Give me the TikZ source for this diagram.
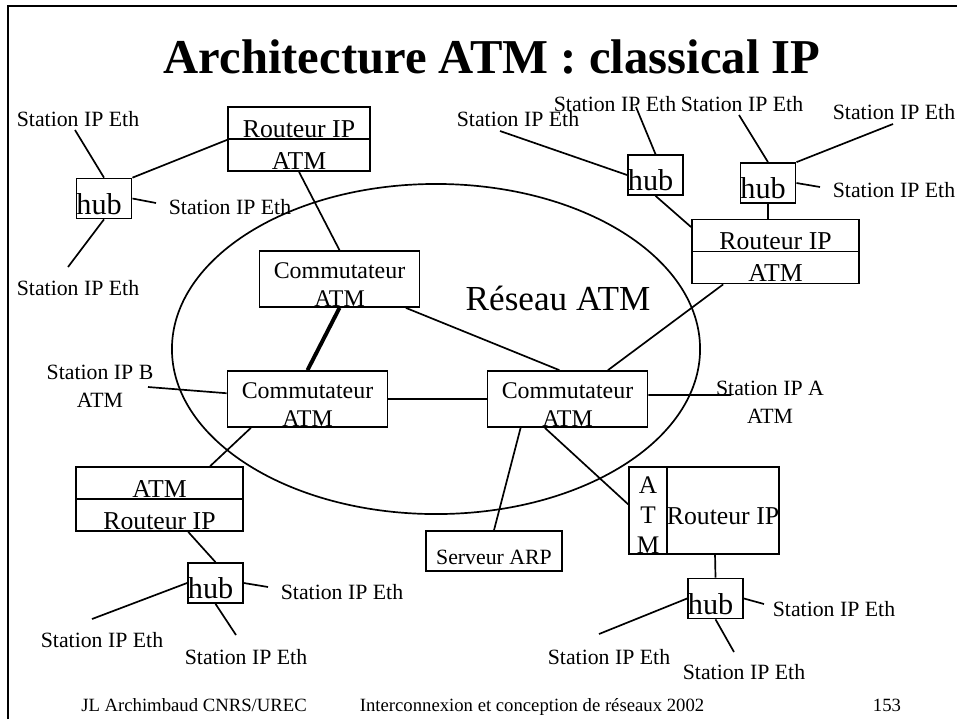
\documentclass[tikz,border=0pt]{standalone}
\usepackage{fontspec}
\setmainfont{Liberation Serif}
\usetikzlibrary{calc}

\begin{document}
\begin{tikzpicture}[x=0.025cm, y=-0.025cm, line width=1.2pt,
    box/.style={rectangle, draw, inner sep=0pt},
    routeur/.style={box, minimum height=0.8cm, text height=19.9pt, text depth=0pt,
      font=\fontsize{18.3}{22}\selectfont},
    commut/.style={box, minimum width=4cm, minimum height=1.4cm, align=center,
      text height=38.4pt, text depth=0pt, font=\fontsize{17}{19.9}\selectfont},
    hub/.style={box, minimum width=1.38cm, minimum height=1cm, text height=22.5pt,
      text depth=0pt, font=\fontsize{21.5}{24}\selectfont},
    station/.style={inner sep=0pt, align=center, font=\fontsize{15.5}{20}\selectfont},
    pied/.style={inner sep=0pt, anchor=base, font=\fontsize{13.3}{16}\selectfont}
  ]
  \useasboundingbox (0,0) rectangle (957,719);
  \draw[line width=1.4pt] (8,719) -- (8,6) -- (957,6);

  \node[font=\fontsize{34.6}{40}\selectfont\bfseries] (titre) at (492,57)
    {Architecture ATM : classical IP};

  % reseau ATM
  \draw (436,349) ellipse [x radius=6.6cm, y radius=4.125cm];
  \node[font=\fontsize{25}{30}\selectfont] (reseau) at (558,298) {Réseau ATM};

  \node[commut] (cmT) at (339.5,279) {Commutateur\\ATM};
  \node[commut] (cmL) at (307.5,399) {Commutateur\\ATM};
  \node[commut] (cmR) at (567.5,399) {Commutateur\\ATM};
  \node[box, minimum width=3.4cm, minimum height=1cm, text height=18.8pt, text depth=0pt,
    font=\fontsize{15.5}{18}\selectfont] (arp) at (494,551) {Serveur ARP};

  % routeurs
  \node[routeur, minimum width=3.55cm] (rtAip) at (299,123) {Routeur IP};
  \node[routeur, minimum width=3.55cm] (rtAatm) at (299,155) {ATM};
  \node[routeur, minimum width=4.175cm] (rtBip) at (775.5,235.5) {Routeur IP};
  \node[routeur, minimum width=4.175cm] (rtBatm) at (775.5,267.5) {ATM};
  \node[routeur, minimum width=4.175cm] (rtCatm) at (159.5,483) {ATM};
  \node[routeur, minimum width=4.175cm] (rtCip) at (159.5,515) {Routeur IP};
  \node[box, minimum width=0.95cm, minimum height=2.175cm, align=center,
    text height=61.5pt, text depth=-2.4pt, font=\fontsize{18}{21.3}\selectfont]
    (atmD) at (648,510.5) {A\\T\\M};
  \node[routeur, minimum width=2.8cm, minimum height=2.175cm] (rtD) at (723,510.5) {Routeur IP};

  % hubs
  \node[hub] (hubA) at (104,198.5) {\makebox[1.38cm][l]{hub}};
  \node[hub] (hubB1) at (655.5,175) {\makebox[1.38cm][l]{hub}};
  \node[hub] (hubB2) at (768,183) {\makebox[1.38cm][l]{hub}};
  \node[hub] (hubC) at (215.5,583) {\makebox[1.38cm][l]{hub}};
  \node[hub] (hubD) at (715.5,598.5) {\makebox[1.38cm][l]{hub}};

  % stations
  \node[station] (sA1) at (78,119) {Station IP Eth};
  \node[station] (sA2) at (230,207) {Station IP Eth};
  \node[station] (sA3) at (78,288) {Station IP Eth};
  \node[station] (sB1) at (518,119) {Station IP Eth};
  \node[station] (sB2) at (615,104) {Station IP Eth};
  \node[station] (sB3) at (742,104) {Station IP Eth};
  \node[station] (sB4) at (894,112) {Station IP Eth};
  \node[station] (sB5) at (894,190) {Station IP Eth};
  \node[station] (stB) at (100,386) {Station IP B\\ATM};
  \node[station] (stA) at (770,402) {Station IP A\\ATM};
  \node[station] (sC1) at (102,640) {Station IP Eth};
  \node[station] (sC2) at (246,657) {Station IP Eth};
  \node[station] (sC3) at (342,592) {Station IP Eth};
  \node[station] (sD1) at (609,657) {Station IP Eth};
  \node[station] (sD2) at (744,672) {Station IP Eth};
  \node[station] (sD3) at (834,609) {Station IP Eth};

  \coordinate (eA1) at (75,130);
  \coordinate (eA2) at (156,203);
  \coordinate (eA3) at (68,267);
  \coordinate (eB1) at (500,131);
  \coordinate (eB2) at (636,107);
  \coordinate (eB3) at (739,115);
  \coordinate (eB4) at (893,124);
  \coordinate (eB5) at (820,187);
  \coordinate (eSB) at (148,387);
  \coordinate (eSA) at (731,395);
  \coordinate (eC1) at (92,619);
  \coordinate (eC2) at (268,587);
  \coordinate (eC3) at (236,635);
  \coordinate (eD1) at (599,634);
  \coordinate (eD2) at (764,604);
  \coordinate (eD3) at (734,652);

  % liaisons
  \draw (hubA.north) -- (eA1);
  \draw (hubA.east) -- (eA2);
  \draw (hubA.south) -- (eA3);
  \draw (hubA.north east) -- (rtAip.south west);
  \draw (rtAatm.south) -- (cmT.north);

  \draw (hubB1.west) -- (eB1);
  \draw (hubB1.north) -- (eB2);
  \draw (hubB2.north) -- (eB3);
  \draw (hubB2.north east) -- (eB4);
  \draw (hubB2.east) -- (eB5);
  \draw (hubB1.south) -- ($(rtBip.north west)!0.25!(rtBip.south west)$);
  \draw (hubB2.south) -- (hubB2.south |- rtBip.north);

  \draw[line width=2.8pt] (cmT.south) -- (cmL.north);
  \draw ($(cmT.south west)!0.91!(cmT.south east)$) -- ($(cmR.north west)!0.45!(cmR.north east)$);
  \draw (cmL) -- (cmR);
  \draw (eSB) -- ($(cmL.north west)!0.4!(cmL.south west)$);
  \draw ($(cmR.north east)!0.43!(cmR.south east)$) -- (eSA);
  \draw ($(cmR.north west)!0.75!(cmR.north east)$) -- ($(rtBatm.south west)!0.19!(rtBatm.south east)$);
  \draw ($(cmR.south west)!0.21!(cmR.south east)$) -- (arp.north);
  \draw ($(cmR.south west)!0.36!(cmR.south east)$) -- ($(atmD.north west)!0.43!(atmD.south west)$);

  \draw ($(cmL.south west)!0.15!(cmL.south east)$) -- ($(rtCatm.north west)!0.8!(rtCatm.north east)$);
  \draw ($(rtCip.south west)!0.67!(rtCip.south east)$) -- (hubC.north);
  \draw (hubC.west) -- (eC1);
  \draw (hubC.east) -- (eC2);
  \draw (hubC.south) -- (eC3);

  \draw ($(rtD.south west)!0.43!(rtD.south east)$) -- (hubD.north);
  \draw (hubD.west) -- (eD1);
  \draw (hubD.east) -- (eD2);
  \draw (hubD.south) -- (eD3);

  \node[pied] (auteur) at (194,711) {JL Archimbaud CNRS/UREC};
  \node[pied] (cours) at (532,711) {Interconnexion et conception de réseaux 2002};
  \node[pied] (page) at (887,711) {153};
\end{tikzpicture}
\end{document}
